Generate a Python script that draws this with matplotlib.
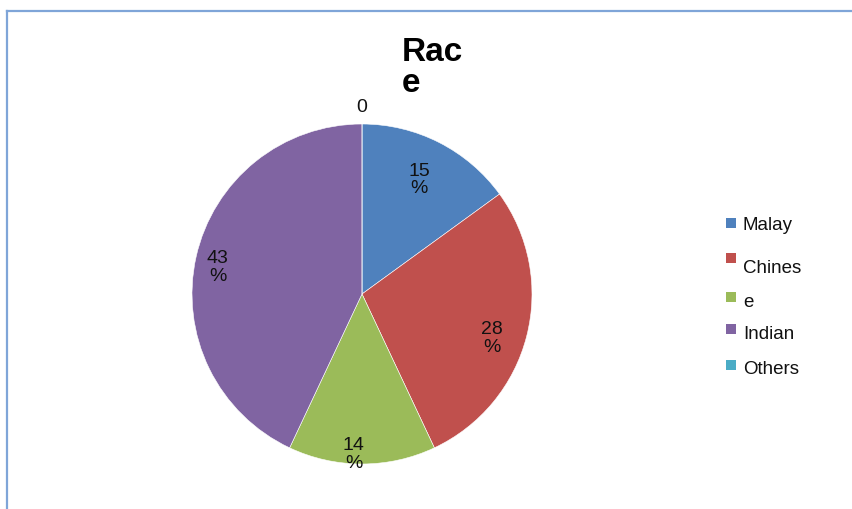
import matplotlib
matplotlib.use('Agg')
import matplotlib.pyplot as plt
from matplotlib.patches import Rectangle
from matplotlib.lines import Line2D
import numpy as np

plt.rcParams['font.family'] = ['Liberation Sans', 'DejaVu Sans']

shares = [15, 28, 14, 43, 0]
slice_names = ['Malay', 'Chinese', 'e', 'Indian', 'Others']
colors = ['#4F81BD', '#C0504D', '#9BBB59', '#8064A2', '#4BACC6']
legend_lines = ['Malay', 'Chines', 'e', 'Indian', 'Others']

W, H = 853, 510
fig = plt.figure(figsize=(W / 100, H / 100), dpi=100)

# pie sits at (362, 295) px with a 170 px radius
cx, cy, r = 362, 295, 170
ax = fig.add_axes([(cx - r) / W, (H - cy - r) / H, 2 * r / W, 2 * r / H])
wedges, _ = ax.pie(shares, colors=colors, startangle=90, counterclock=False,
                   radius=1, wedgeprops=dict(edgecolor='white', linewidth=0.4))
ax.set_xlim(-1, 1)
ax.set_ylim(-1, 1)
ax.set_aspect('equal')
ax.axis('off')

# data labels, wrapped like the original ("15\n%"), zero label sits above the top
label_dist = [0.76, 0.80, 0.94, 0.86, 1.10]
label_dx = [-1, -1, -6, -1, 0]   # small nudges, in points
label_dy = [0, -7, 0, -3, 0]
for w, v, d, dx, dy in zip(wedges, shares, label_dist, label_dx, label_dy):
    mid = np.deg2rad((w.theta1 + w.theta2) / 2)
    txt = f'{v}\n%' if v else f'{v}'
    ax.annotate(txt, (d * np.cos(mid), d * np.sin(mid)), xytext=(dx, dy),
                textcoords='offset points', ha='center', va='center',
                fontsize=14, linespacing=1.05, color='#111111',
                annotation_clip=False)

# title, wrapped
fig.text(402 / W, 1 - 37 / H, 'Rac\ne', ha='left', va='top', fontsize=24,
         fontweight='bold', linespacing=1.0)

# legend drawn by hand so the wrapped "Chines / e" keeps its odd spacing
marker_tops = [219, 254, 293, 325, 361]
text_base = [230, 273, 307, 339, 374]
for c, lab, mt, tb in zip(colors, legend_lines, marker_tops, text_base):
    fig.add_artist(Rectangle((726 / W, 1 - (mt + 10) / H), 10 / W, 10 / H,
                             transform=fig.transFigure, facecolor=c,
                             edgecolor='none'))
    fig.text(743 / W, 1 - tb / H, lab, ha='left', va='baseline', fontsize=13.5,
             color='#111111')

# chart area frame (only top and left edges show)
fig.add_artist(Line2D([7 / W, 7 / W], [0, 1 - 12 / H], transform=fig.transFigure,
                      color='#7fa5d8', lw=1.6))
fig.add_artist(Line2D([7 / W, 1], [1 - 12 / H, 1 - 12 / H], transform=fig.transFigure,
                      color='#7fa5d8', lw=1.6))

fig.savefig('out.png', dpi=100)
